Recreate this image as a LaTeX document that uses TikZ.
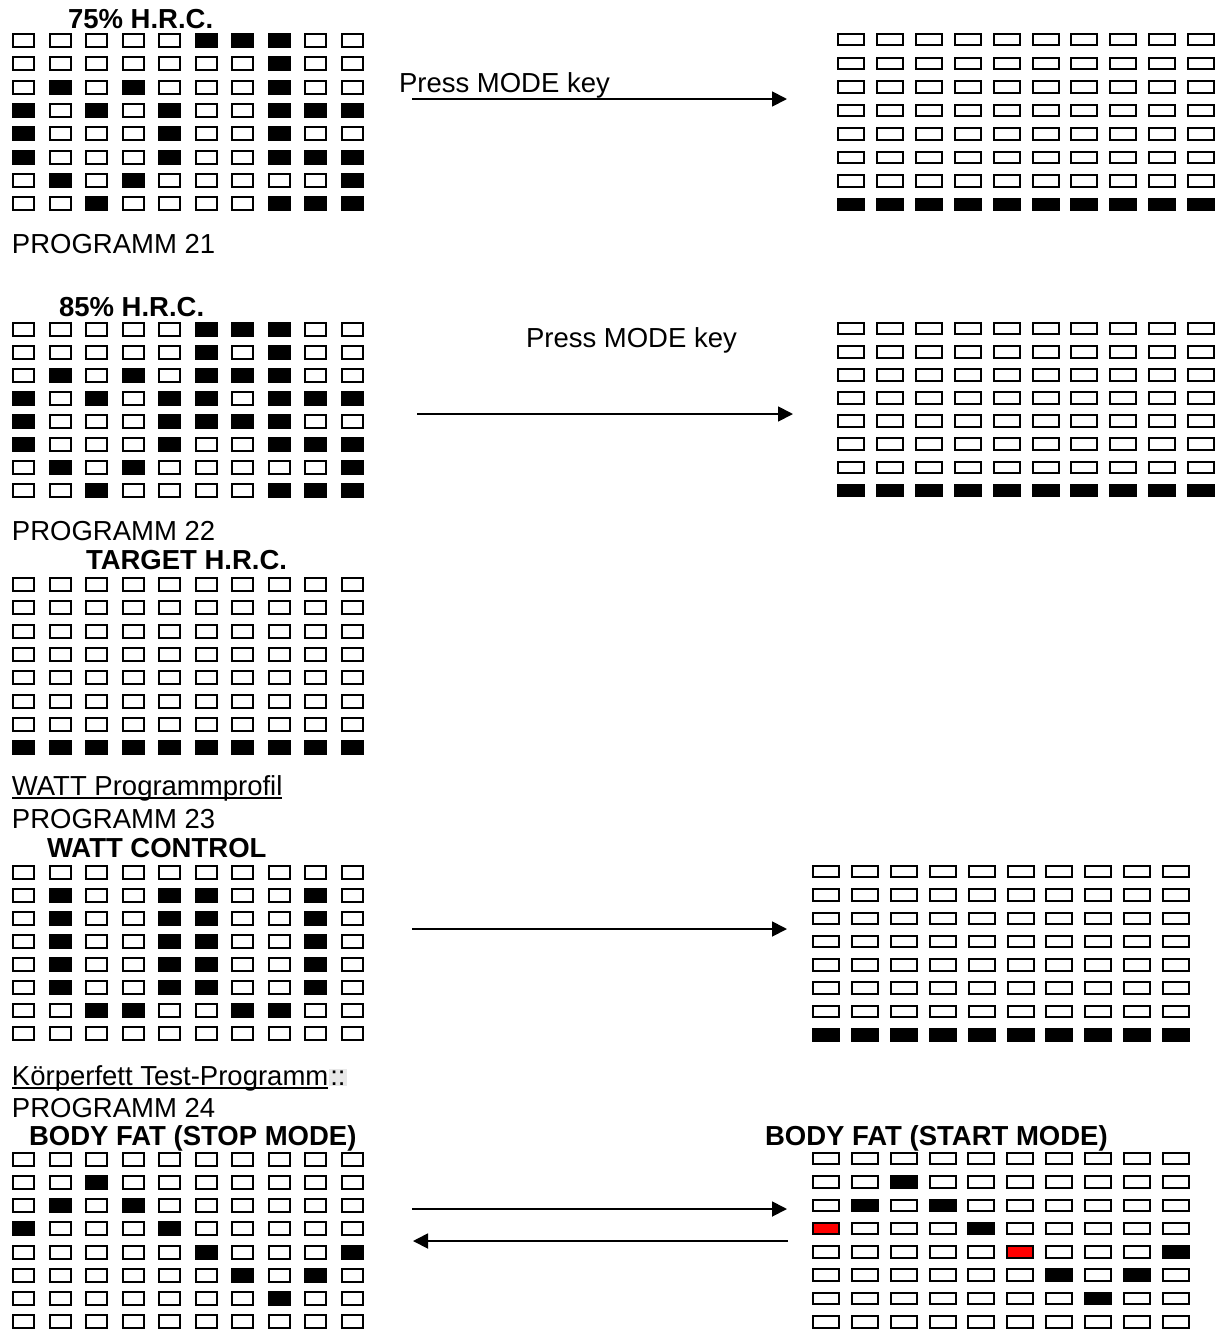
\documentclass[tikz,border=0pt]{standalone}
\usepackage{fontspec}
\setmainfont{Liberation Sans}
\usetikzlibrary{arrows.meta}
\tikzset{
  cellbase/.style={rectangle, draw=black, line width=2pt, inner sep=0pt, outer sep=0pt},
  smallcell/.style={cellbase, minimum width=21pt, minimum height=13pt},
  bigcell/.style={cellbase, minimum width=26pt, minimum height=11.5pt},
  st0/.style={fill=white},
  st1/.style={fill=black},
  st2/.style={fill=red},
  txt/.style={anchor=base west, inner sep=0pt, outer sep=0pt, font=\fontsize{27.5}{31}\selectfont},
  btxt/.style={txt, font=\fontsize{27.5}{31}\selectfont\bfseries},
  arr/.style={line width=1.8pt, -{Triangle[length=15pt,width=15pt]}},
  uline/.style={line width=1.5pt}
}
\newcommand{\drawgrid}[7]{%
  \foreach \rowdata [count=\r from 0] in {#7} {
    \foreach \v [count=\c from 0] in \rowdata {
      \node[#6, st\v] (#1-\r-\c) at ({#2+\c*#4},{#3+\r*#5}) {};
    }
  }
}
\begin{document}
\begin{tikzpicture}[x=1pt,y=-1pt]
\useasboundingbox (0,0) rectangle (1226,1339);

% ---- texts
\node[btxt] (t75) at (68,28) {75\% H.R.C.};
\node[txt] (press1) at (399,92) {Press MODE key};
\node[txt] (prog21) at (12,253) {PROGRAMM 21};
\node[btxt] (t85) at (59,316) {85\% H.R.C.};
\node[txt] (press2) at (526,347) {Press MODE key};
\node[txt] (prog22) at (12,540) {PROGRAMM 22};
\node[btxt] (ttarget) at (86,569) {TARGET H.R.C.};
\node[txt] (wattprof) at (12,795) {WATT Programmprofil};
\draw[uline] ([yshift=-3pt]wattprof.base west) -- ([yshift=-3pt]wattprof.base east);
\node[txt] (prog23) at (12,828) {PROGRAMM 23};
\node[btxt] (wattc) at (47,857) {WATT CONTROL};
\node[txt] (koerp) at (12,1085) {Körperfett Test-Programm};
\draw[uline] ([yshift=-3pt]koerp.base west) -- ([yshift=-3pt]koerp.base east);
\node[txt, fill=gray!18, inner sep=1pt] (colons) at ([xshift=1pt]koerp.base east) {::};
\node[txt] (prog24) at (12,1117) {PROGRAMM 24};
\node[btxt] (bfstop) at (29,1145) {BODY FAT (STOP MODE)};
\node[btxt] (bfstart) at (765,1145) {BODY FAT (START MODE)};

% ---- left grids
\drawgrid{ga}{23.5}{40.5}{36.5}{23.3}{smallcell}{
 {0,0,0,0,0,1,1,1,0,0},{0,0,0,0,0,0,0,1,0,0},{0,1,0,1,0,0,0,1,0,0},{1,0,1,0,1,0,0,1,1,1},
 {1,0,0,0,1,0,0,1,0,0},{1,0,0,0,1,0,0,1,1,1},{0,1,0,1,0,0,0,0,0,1},{0,0,1,0,0,0,0,1,1,1}}
\drawgrid{gb}{23.5}{329.5}{36.5}{23}{smallcell}{
 {0,0,0,0,0,1,1,1,0,0},{0,0,0,0,0,1,0,1,0,0},{0,1,0,1,0,1,1,1,0,0},{1,0,1,0,1,1,0,1,1,1},
 {1,0,0,0,1,1,1,1,0,0},{1,0,0,0,1,0,0,1,1,1},{0,1,0,1,0,0,0,0,0,1},{0,0,1,0,0,0,0,1,1,1}}
\drawgrid{gc}{23.5}{584.5}{36.5}{23.3}{smallcell}{
 {0,0,0,0,0,0,0,0,0,0},{0,0,0,0,0,0,0,0,0,0},{0,0,0,0,0,0,0,0,0,0},{0,0,0,0,0,0,0,0,0,0},
 {0,0,0,0,0,0,0,0,0,0},{0,0,0,0,0,0,0,0,0,0},{0,0,0,0,0,0,0,0,0,0},{1,1,1,1,1,1,1,1,1,1}}
\drawgrid{gd}{23.5}{872.5}{36.5}{23}{smallcell}{
 {0,0,0,0,0,0,0,0,0,0},{0,1,0,0,1,1,0,0,1,0},{0,1,0,0,1,1,0,0,1,0},{0,1,0,0,1,1,0,0,1,0},
 {0,1,0,0,1,1,0,0,1,0},{0,1,0,0,1,1,0,0,1,0},{0,0,1,1,0,0,1,1,0,0},{0,0,0,0,0,0,0,0,0,0}}
\drawgrid{ge}{23.5}{1159.5}{36.5}{23.14}{smallcell}{
 {0,0,0,0,0,0,0,0,0,0},{0,0,1,0,0,0,0,0,0,0},{0,1,0,1,0,0,0,0,0,0},{1,0,0,0,1,0,0,0,0,0},
 {0,0,0,0,0,1,0,0,0,1},{0,0,0,0,0,0,1,0,1,0},{0,0,0,0,0,0,0,1,0,0},{0,0,0,0,0,0,0,0,0,0}}

% ---- right grids
\drawgrid{ra}{851}{39.7}{38.9}{23.57}{bigcell}{
 {0,0,0,0,0,0,0,0,0,0},{0,0,0,0,0,0,0,0,0,0},{0,0,0,0,0,0,0,0,0,0},{0,0,0,0,0,0,0,0,0,0},
 {0,0,0,0,0,0,0,0,0,0},{0,0,0,0,0,0,0,0,0,0},{0,0,0,0,0,0,0,0,0,0},{1,1,1,1,1,1,1,1,1,1}}
\drawgrid{rb}{851}{328.7}{38.9}{23.1}{bigcell}{
 {0,0,0,0,0,0,0,0,0,0},{0,0,0,0,0,0,0,0,0,0},{0,0,0,0,0,0,0,0,0,0},{0,0,0,0,0,0,0,0,0,0},
 {0,0,0,0,0,0,0,0,0,0},{0,0,0,0,0,0,0,0,0,0},{0,0,0,0,0,0,0,0,0,0},{1,1,1,1,1,1,1,1,1,1}}
\drawgrid{rd}{826}{871.7}{38.9}{23.3}{bigcell}{
 {0,0,0,0,0,0,0,0,0,0},{0,0,0,0,0,0,0,0,0,0},{0,0,0,0,0,0,0,0,0,0},{0,0,0,0,0,0,0,0,0,0},
 {0,0,0,0,0,0,0,0,0,0},{0,0,0,0,0,0,0,0,0,0},{0,0,0,0,0,0,0,0,0,0},{1,1,1,1,1,1,1,1,1,1}}
\drawgrid{re}{826}{1158.7}{38.85}{23.3}{bigcell}{
 {0,0,0,0,0,0,0,0,0,0},{0,0,1,0,0,0,0,0,0,0},{0,1,0,1,0,0,0,0,0,0},{2,0,0,0,1,0,0,0,0,0},
 {0,0,0,0,0,2,0,0,0,1},{0,0,0,0,0,0,1,0,1,0},{0,0,0,0,0,0,0,1,0,0},{0,0,0,0,0,0,0,0,0,0}}

% ---- arrows
\coordinate (a1s) at (412,99);   \coordinate (a1e) at (787,99);
\coordinate (a2s) at (417,414);  \coordinate (a2e) at (793,414);
\coordinate (a3s) at (412,929);  \coordinate (a3e) at (787,929);
\coordinate (a4s) at (412,1209); \coordinate (a4e) at (787,1209);
\coordinate (a5s) at (788,1241); \coordinate (a5e) at (413,1241);
\draw[arr] (a1s) -- (a1e);
\draw[arr] (a2s) -- (a2e);
\draw[arr] (a3s) -- (a3e);
\draw[arr] (a4s) -- (a4e);
\draw[arr] (a5s) -- (a5e);
\end{tikzpicture}
\end{document}
